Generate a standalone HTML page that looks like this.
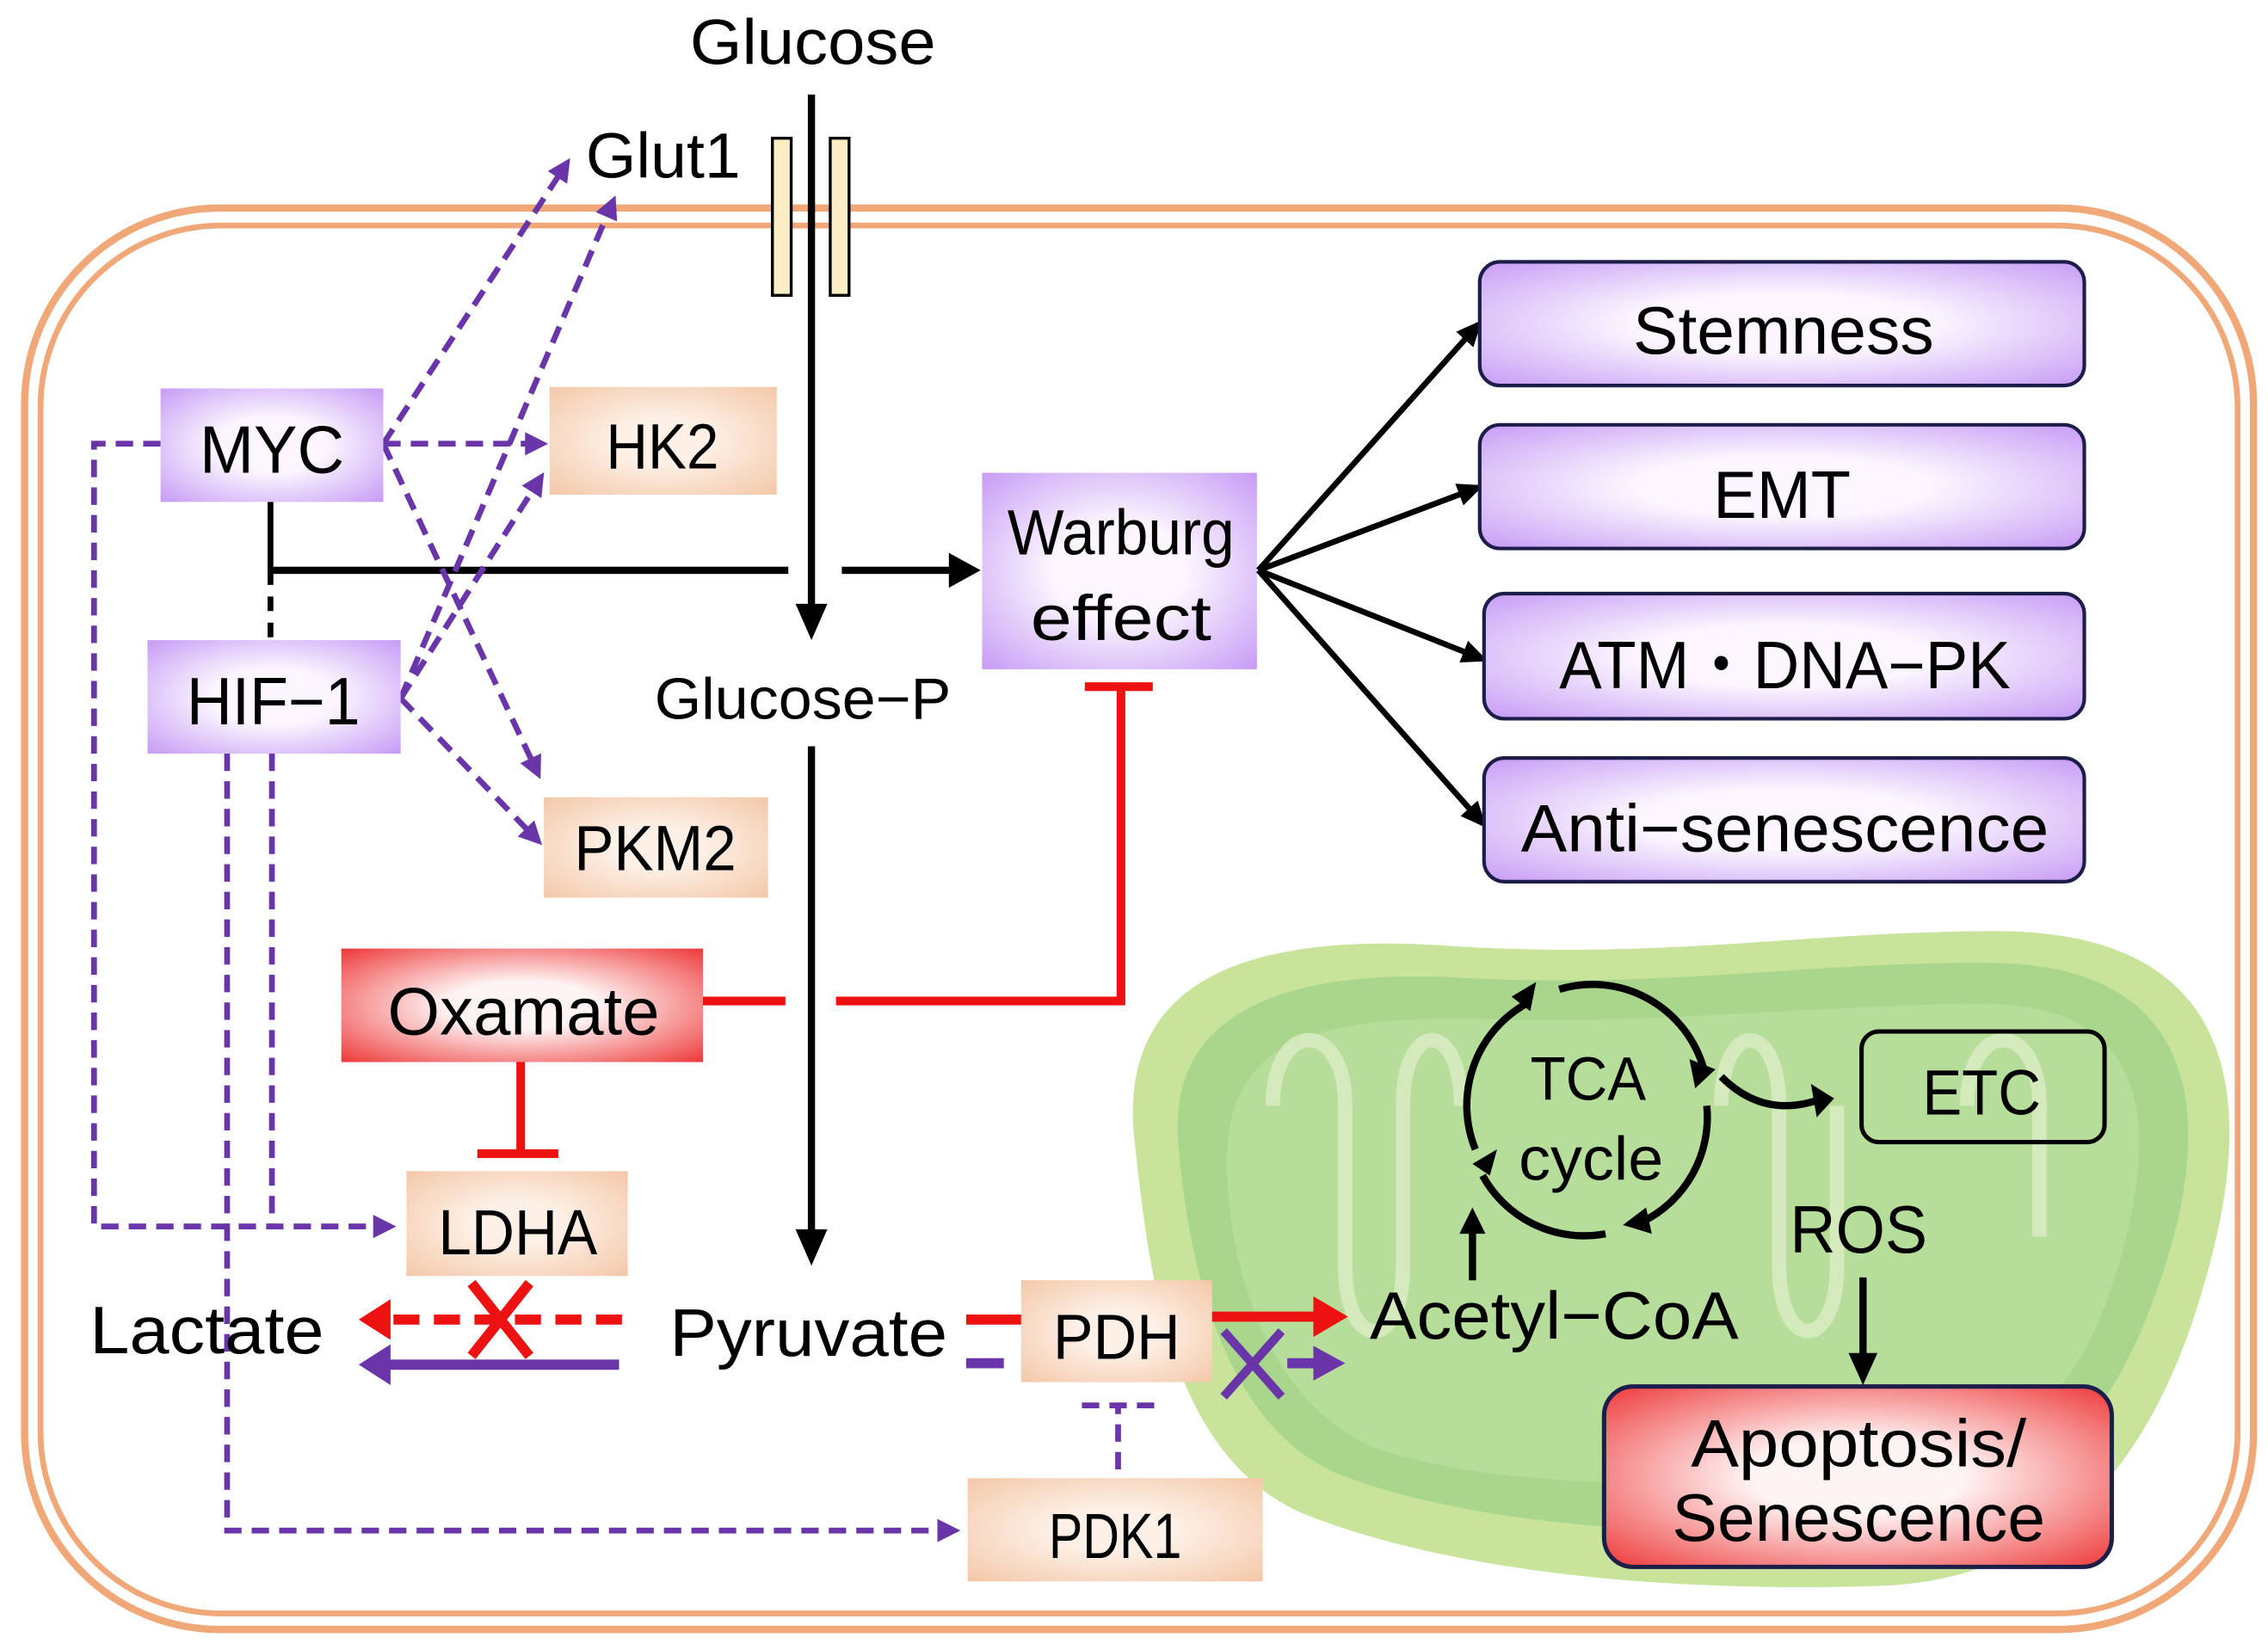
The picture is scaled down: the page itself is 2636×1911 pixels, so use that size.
<!DOCTYPE html>
<html><head><meta charset="utf-8"><style>
html,body{margin:0;padding:0;background:#fff;}
svg{display:block;}
text{font-family:"Liberation Sans","Noto Sans CJK JP",sans-serif;fill:#000;}
</style></head><body>
<svg width="2636" height="1911" viewBox="0 0 1568 1130" preserveAspectRatio="none" xmlns="http://www.w3.org/2000/svg">
<defs>
<radialGradient id="pg" cx="0.5" cy="0.5" r="0.7"><stop offset="0.35" stop-color="#fbf6ff"/><stop offset="1" stop-color="#c79cf5"/></radialGradient>
<radialGradient id="og" cx="0.5" cy="0.5" r="0.7"><stop offset="0.3" stop-color="#fdf0e6"/><stop offset="1" stop-color="#f4c8a8"/></radialGradient>
<radialGradient id="rg" cx="0.5" cy="0.5" r="0.7"><stop offset="0.3" stop-color="#fff4f4"/><stop offset="1" stop-color="#ee3a3a"/></radialGradient>
<marker id="ab" markerWidth="18" markerHeight="16" refX="14" refY="8" orient="auto" markerUnits="userSpaceOnUse"><path d="M0,0 L18,8 L0,16z" fill="#000"/></marker>
<marker id="ap" markerWidth="16" markerHeight="16" refX="12" refY="8" orient="auto" markerUnits="userSpaceOnUse"><path d="M0,0 L16,8 L0,16z" fill="#6a35a8"/></marker>
</defs>
<!-- cell -->
<rect x="17" y="143" width="1541" height="977" rx="135" fill="none" stroke="#f0a878" stroke-width="5"/>
<rect x="28" y="155" width="1519" height="954" rx="125" fill="none" stroke="#f0a878" stroke-width="4"/>
<!-- mitochondrion -->
<path d="M785,790 C770,680 850,640 1000,650 C1150,660 1250,640 1380,640 C1520,640 1565,720 1530,860 C1500,980 1440,1085 1300,1090 C1150,1095 1000,1080 900,1040 C810,1000 795,880 785,790z" fill="#c8e39a"/>
<path d="M815,790 C805,700 880,665 1010,672 C1150,680 1260,660 1380,662 C1500,664 1535,740 1500,860 C1470,960 1420,1040 1300,1050 C1150,1060 1010,1045 930,1015 C850,985 823,880 815,790z" fill="#a9d68c"/>
<path d="M848,800 C848,720 900,700 1010,700 C1150,705 1260,690 1370,690 C1470,690 1495,750 1470,850 C1445,950 1400,1005 1300,1015 C1150,1025 1020,1020 950,995 C880,965 850,880 848,800z" fill="#b6dd99"/>
<g fill="none" stroke="#dceec4" stroke-width="10" opacity="0.8">
<path d="M880,760 C880,700 930,700 930,760 L930,870 C930,930 970,930 970,870 L970,760 C970,700 1010,700 1010,760"/>
<path d="M1190,760 C1190,700 1230,700 1230,760 L1230,870 C1230,930 1270,930 1270,870 L1270,760"/>
<path d="M1360,760 C1360,700 1410,700 1410,760 L1410,850"/>
</g>
<!-- glucose channel -->
<rect x="534" y="95" width="13" height="108" fill="#fcedc5" stroke="#000" stroke-width="2"/>
<rect x="574" y="95" width="13" height="108" fill="#fcedc5" stroke="#000" stroke-width="2"/>
<text x="562" y="44" font-size="44" text-anchor="middle" textLength="170" lengthAdjust="spacingAndGlyphs">Glucose</text>
<line x1="561" y1="65" x2="561" y2="425" stroke="#000" stroke-width="5"/>
<path d="M550,415 L572,415 L561,440z" fill="#000"/>
<text x="405" y="122" font-size="44" textLength="107" lengthAdjust="spacingAndGlyphs">Glut1</text>
<text x="555" y="494" font-size="40" text-anchor="middle" textLength="205" lengthAdjust="spacingAndGlyphs">Glucose−P</text>
<line x1="561" y1="513" x2="561" y2="850" stroke="#000" stroke-width="5"/>
<path d="M550,845 L572,845 L561,870z" fill="#000"/>
<!-- MYC/HIF black -->
<line x1="187" y1="345" x2="187" y2="392" stroke="#000" stroke-width="4"/>
<line x1="187" y1="392" x2="187" y2="440" stroke="#000" stroke-width="4" stroke-dasharray="10,8"/>
<line x1="187" y1="392" x2="545" y2="392" stroke="#000" stroke-width="5"/>
<line x1="582" y1="392" x2="660" y2="392" stroke="#000" stroke-width="5"/>
<path d="M656,380 L678,392 L656,404z" fill="#000"/>
<!-- purple dashed -->
<g stroke="#6a35a8" stroke-width="4" fill="none" stroke-dasharray="12,7">
<path d="M111,305 L65,305 L65,843 L270,843" marker-end="url(#ap)"/>
<path d="M188,518 L188,843"/>
<path d="M157,518 L157,1052 L660,1052" marker-end="url(#ap)"/>
<line x1="265" y1="305" x2="392" y2="112" marker-end="url(#ap)"/>
<line x1="265" y1="305" x2="375" y2="305" marker-end="url(#ap)"/>
<line x1="265" y1="305" x2="372" y2="532" marker-end="url(#ap)"/>
<line x1="277" y1="480" x2="424" y2="138" marker-end="url(#ap)"/>
<line x1="277" y1="480" x2="374" y2="328" marker-end="url(#ap)"/>
<line x1="277" y1="480" x2="372" y2="578" marker-end="url(#ap)"/>
<line x1="773" y1="1010" x2="773" y2="968"/>
<line x1="748" y1="966" x2="800" y2="966"/>
</g>
<!-- boxes -->
<rect x="111" y="267" width="154" height="78" fill="url(#pg)"/>
<text x="188" y="325" font-size="46" text-anchor="middle" textLength="100" lengthAdjust="spacingAndGlyphs">MYC</text>
<rect x="102" y="440" width="175" height="78" fill="url(#pg)"/>
<text x="189" y="498" font-size="46" text-anchor="middle" textLength="120" lengthAdjust="spacingAndGlyphs">HIF−1</text>
<rect x="380" y="266" width="157" height="74" fill="url(#og)"/>
<text x="458" y="322" font-size="44" text-anchor="middle" textLength="78" lengthAdjust="spacingAndGlyphs">HK2</text>
<rect x="376" y="548" width="155" height="69" fill="url(#og)"/>
<text x="453" y="598" font-size="44" text-anchor="middle" textLength="112" lengthAdjust="spacingAndGlyphs">PKM2</text>
<rect x="679" y="325" width="190" height="135" fill="url(#pg)"/>
<text x="775" y="381" font-size="44" text-anchor="middle" textLength="157" lengthAdjust="spacingAndGlyphs">Warburg</text>
<text x="775" y="440" font-size="44" text-anchor="middle" textLength="125" lengthAdjust="spacingAndGlyphs">effect</text>
<!-- right outcome boxes -->
<g stroke="#000" stroke-width="4" fill="none">
<line x1="870" y1="392" x2="1022" y2="223" marker-end="url(#ab)"/>
<line x1="870" y1="392" x2="1022" y2="335" marker-end="url(#ab)"/>
<line x1="870" y1="392" x2="1025" y2="453" marker-end="url(#ab)"/>
<line x1="870" y1="392" x2="1025" y2="566" marker-end="url(#ab)"/>
</g>
<g stroke="#1d1d4a" stroke-width="2.5">
<rect x="1023" y="180" width="418" height="85" rx="14" fill="url(#pg)"/>
<rect x="1023" y="292" width="418" height="85" rx="14" fill="url(#pg)"/>
<rect x="1026" y="408" width="415" height="86" rx="14" fill="url(#pg)"/>
<rect x="1026" y="521" width="415" height="85" rx="14" fill="url(#pg)"/>
</g>
<text x="1233" y="243" font-size="46" text-anchor="middle" textLength="208" lengthAdjust="spacingAndGlyphs">Stemness</text>
<text x="1232" y="356" font-size="46" text-anchor="middle" textLength="95" lengthAdjust="spacingAndGlyphs">EMT</text>
<text x="1234" y="473" font-size="46" text-anchor="middle" textLength="312" lengthAdjust="spacingAndGlyphs">ATM・DNA−PK</text>
<text x="1234" y="585" font-size="46" text-anchor="middle" textLength="365" lengthAdjust="spacingAndGlyphs">Anti−senescence</text>
<!-- oxamate -->
<rect x="236" y="652" width="250" height="78" fill="url(#rg)"/>
<text x="362" y="711" font-size="46" text-anchor="middle" textLength="188" lengthAdjust="spacingAndGlyphs">Oxamate</text>
<g stroke="#ee1111" stroke-width="6" fill="none">
<line x1="486" y1="688" x2="543" y2="688"/>
<path d="M578,688 L775,688 L775,472"/>
<line x1="750" y1="472" x2="797" y2="472"/>
<line x1="360" y1="730" x2="360" y2="793"/>
<line x1="330" y1="793" x2="386" y2="793"/>
</g>
<rect x="281" y="805" width="153" height="72" fill="url(#og)"/>
<text x="358" y="862" font-size="44" text-anchor="middle" textLength="110" lengthAdjust="spacingAndGlyphs">LDHA</text>
<text x="62" y="930" font-size="46" textLength="162" lengthAdjust="spacingAndGlyphs">Lactate</text>
<text x="463" y="932" font-size="46" textLength="192" lengthAdjust="spacingAndGlyphs">Pyruvate</text>
<!-- lactate arrows -->
<line x1="430" y1="907" x2="268" y2="907" stroke="#ee1111" stroke-width="7" stroke-dasharray="18,10"/>
<path d="M270,893 L248,907 L270,921z" fill="#ee1111"/>
<path d="M326,882 L366,932 M366,882 L326,932" stroke="#ee1111" stroke-width="7"/>
<line x1="428" y1="938" x2="268" y2="938" stroke="#6a35a8" stroke-width="7"/>
<path d="M270,924 L248,938 L270,952z" fill="#6a35a8"/>
<!-- PDH -->
<line x1="668" y1="907" x2="706" y2="907" stroke="#ee1111" stroke-width="7"/>
<line x1="668" y1="937" x2="694" y2="937" stroke="#6a35a8" stroke-width="7"/>
<rect x="706" y="880" width="132" height="70" fill="url(#og)"/>
<text x="772" y="934" font-size="44" text-anchor="middle" textLength="88" lengthAdjust="spacingAndGlyphs">PDH</text>
<line x1="838" y1="905" x2="912" y2="905" stroke="#ee1111" stroke-width="7"/>
<path d="M908,891 L932,905 L908,919z" fill="#ee1111"/>
<path d="M846,915 L886,960 M886,915 L846,960" stroke="#6a35a8" stroke-width="6"/>
<line x1="890" y1="937" x2="912" y2="937" stroke="#6a35a8" stroke-width="7"/>
<path d="M908,925 L930,937 L908,949z" fill="#6a35a8"/>
<rect x="669" y="1016" width="204" height="71" fill="url(#og)"/>
<text x="771" y="1071" font-size="44" text-anchor="middle" textLength="92" lengthAdjust="spacingAndGlyphs">PDK1</text>
<!-- mito contents -->
<text x="947" y="920" font-size="46" textLength="255" lengthAdjust="spacingAndGlyphs">Acetyl−CoA</text>
<line x1="1018" y1="880" x2="1018" y2="845" stroke="#000" stroke-width="5"/>
<path d="M1009,848 L1027,848 L1018,830z" fill="#000"/>
<g stroke="#000" stroke-width="5" fill="none">
<path d="M1020,790 A80,80 0 0 1 1055,690"/>
<path d="M1078,680 A80,80 0 0 1 1178,735"/>
<path d="M1180,760 A80,80 0 0 1 1135,840"/>
<path d="M1110,848 A80,80 0 0 1 1025,808"/>
<path d="M1190,740 Q1220,770 1260,755"/>
</g>
<path d="M1045,685 L1062,675 L1058,695z" fill="#000"/>
<path d="M1168,728 L1186,735 L1172,748z" fill="#000"/>
<path d="M1122,842 L1138,830 L1142,848z" fill="#000"/>
<path d="M1018,800 L1035,790 L1030,808z" fill="#000"/>
<path d="M1252,745 L1268,755 L1256,768z" fill="#000"/>
<text x="1098" y="756" font-size="42" text-anchor="middle" textLength="80" lengthAdjust="spacingAndGlyphs">TCA</text>
<text x="1100" y="811" font-size="42" text-anchor="middle" textLength="100" lengthAdjust="spacingAndGlyphs">cycle</text>
<rect x="1287" y="709" width="168" height="76" rx="12" fill="none" stroke="#000" stroke-width="3"/>
<text x="1370" y="766" font-size="44" text-anchor="middle" textLength="82" lengthAdjust="spacingAndGlyphs">ETC</text>
<text x="1285" y="861" font-size="46" text-anchor="middle" textLength="95" lengthAdjust="spacingAndGlyphs">ROS</text>
<line x1="1288" y1="878" x2="1288" y2="935" stroke="#000" stroke-width="5"/>
<path d="M1278,930 L1298,930 L1288,952z" fill="#000"/>
<rect x="1109" y="953" width="351" height="124" rx="20" fill="url(#rg)" stroke="#1d1d4a" stroke-width="3"/>
<text x="1285" y="1008" font-size="46" text-anchor="middle" textLength="232" lengthAdjust="spacingAndGlyphs">Apoptosis/</text>
<text x="1285" y="1059" font-size="46" text-anchor="middle" textLength="258" lengthAdjust="spacingAndGlyphs">Senescence</text>
</svg>
</body></html>
